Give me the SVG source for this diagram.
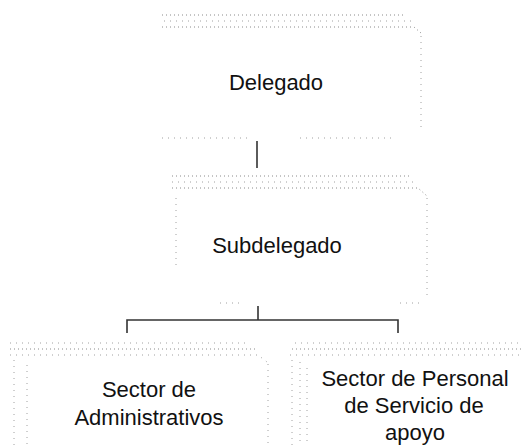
<svg xmlns="http://www.w3.org/2000/svg" width="521" height="445" viewBox="0 0 521 445">
<style>
.bg{fill:#ffffff}
.dot{fill:none;stroke:#8a8a8a;stroke-width:1;stroke-dasharray:1 3}
.dot2{fill:none;stroke:#a0a0a0;stroke-width:1;stroke-dasharray:1 5}
.lbl{font-family:"Liberation Sans",Arial,sans-serif;font-size:22px;fill:#111;text-anchor:middle}
.con{fill:none;stroke:#333;stroke-width:1.6}
</style>
<rect class="bg" x="0" y="0" width="521" height="445"/>
<g id="connectors">
<line class="con" x1="257" y1="141" x2="257" y2="168"/>
<path class="con" d="M258,306 V320 M127,333 V320 H398 V333"/>
</g>
<g id="node-delegado">
<path class="dot" d="M162,15 H405"/>
<path class="dot2" d="M164,21 H412"/>
<path class="dot" d="M162,27 H414 L421,33"/>
<path class="dot2" d="M421,36 V128"/>
<path class="dot2" d="M162,138 H250 M300,138 H395"/>
<text class="lbl" x="276" y="90">Delegado</text>
</g>
<g id="node-subdelegado">
<path class="dot" d="M172,176 H410"/>
<path class="dot2" d="M172,182 H414"/>
<path class="dot" d="M172,188 H418 L427,196"/>
<path class="dot2" d="M427,198 V300"/>
<path class="dot2" d="M176,198 V270"/>
<path class="dot2" d="M220,303 H240 M400,303 H422"/>
<text class="lbl" x="277" y="253">Subdelegado</text>
</g>
<g id="node-administrativos">
<path class="dot2" d="M10,343 H250"/>
<path class="dot" d="M10,349 H256"/>
<path class="dot2" d="M10,355 H258 L267,362"/>
<path class="dot2" d="M268,364 V445"/>
<path class="dot2" d="M14,360 V445"/>
<path class="dot2" d="M27,365 V445"/>
<text class="lbl" x="149" y="397">Sector de</text>
<text class="lbl" x="149" y="425">Administrativos</text>
</g>
<g id="node-apoyo">
<path class="dot2" d="M295,343 H521"/>
<path class="dot" d="M292,349 H521"/>
<path class="dot2" d="M290,355 H521"/>
<path class="dot2" d="M292,360 V445"/>
<path class="dot2" d="M300,362 V445"/>
<path class="dot2" d="M307,368 V445"/>
<text class="lbl" x="415" y="386">Sector de Personal</text>
<text class="lbl" x="414" y="413">de Servicio de</text>
<text class="lbl" x="415" y="440">apoyo</text>
</g>
</svg>
